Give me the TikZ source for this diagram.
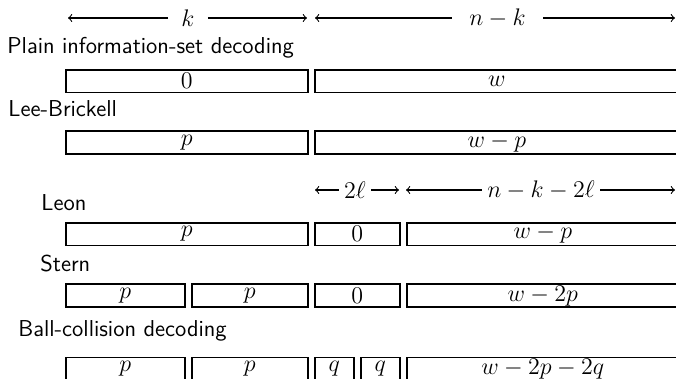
\documentclass[tikz,border=0pt]{standalone}
\begin{document}
\begin{tikzpicture}[x=0.5pt,y=-0.5pt,
  every node/.style={font=\fontsize{11.5}{14}\selectfont},
  seg/.style={draw, line width=0.8pt, minimum height=11.35pt, inner sep=0pt, anchor=north west, minimum width=#1},
  lbl/.style={inner sep=0pt, anchor=base west, font=\sffamily\fontsize{11.5}{14}\selectfont},
  dim/.style={inner sep=0pt, minimum width=#1, minimum height=8pt},
  dimarrow/.style={->, line width=0.55pt}]
\clip (0,0) rectangle (676,379);
% dimension arrows, top
\node[dim=19.5pt] (k) at (188,18) {$k$};
\coordinate (kL) at (68,18);
\coordinate (kR) at (307,18);
\draw[dimarrow] (k.west) -- (kL);
\draw[dimarrow] (k.east) -- (kR);
\node[dim=45.5pt] (nk) at (497.5,18) {$n-k$};
\coordinate (nkL) at (315,18);
\coordinate (nkR) at (675,18);
\draw[dimarrow] (nk.west) -- (nkL);
\draw[dimarrow] (nk.east) -- (nkR);
% dimension arrows, middle
\node[dim=16pt] (l2) at (355,190) {$2\ell$};
\coordinate (l2L) at (315,190);
\coordinate (l2R) at (399,190);
\draw[dimarrow] (l2.west) -- (l2L);
\draw[dimarrow] (l2.east) -- (l2R);
\node[dim=59pt] (nkl) at (541,190) {$n-k-2\ell$};
\coordinate (nklL) at (406,190);
\coordinate (nklR) at (675,190);
\draw[dimarrow] (nkl.west) -- (nklL);
\draw[dimarrow] (nkl.east) -- (nklR);
% names
\node[lbl] (plain) at (7,54) {Plain information-set decoding};
\node[lbl] (lee) at (8,117) {Lee-Brickell};
\node[lbl] (leon) at (41,211) {Leon};
\node[lbl] (stern) at (40,272) {Stern};
\node[lbl] (ball) at (18,337) {Ball-collision decoding};
% row 1
\node[seg=121pt] (a1) at (65,69) {$0$};
\node[seg=182pt] (b1) at (314,69) {$w$};
% row 2
\node[seg=121pt] (a2) at (65,130.5) {$p$};
\node[seg=182pt] (b2) at (314,130.5) {$w-p$};
% row 3
\node[seg=121pt] (a3) at (65,222) {$p$};
\node[seg=42.5pt] (b3) at (314,222) {$0$};
\node[seg=136pt] (c3) at (406,222) {$w-p$};
% row 4
\node[seg=59.5pt] (a4) at (65,283.5) {$p$};
\node[seg=58pt] (a4b) at (191,283.5) {$p$};
\node[seg=42.5pt] (b4) at (314,283.5) {$0$};
\node[seg=136pt] (c4) at (406,283.5) {$w-2p$};
% row 5
\node[seg=59.5pt] (a5) at (65,356.7) {$p$};
\node[seg=58pt] (a5b) at (191,356.7) {$p$};
\node[seg=19.5pt] (b5) at (314,356.7) {$q$};
\node[seg=19.5pt] (b5b) at (360,356.7) {$q$};
\node[seg=136pt] (c5) at (406,356.7) {$w-2p-2q$};
\end{tikzpicture}
\end{document}
